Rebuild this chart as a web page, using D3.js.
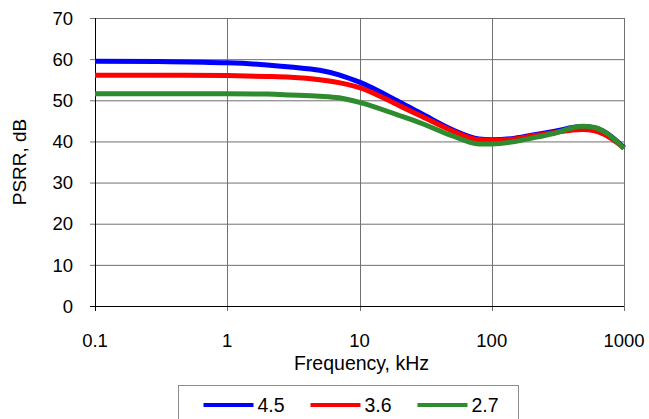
<!DOCTYPE html>
<html>
<head>
<meta charset="utf-8">
<script src="https://cdn.jsdelivr.net/npm/d3@7"></script>
<style>
  body { margin: 0; background: #fff; }
  svg text { font-family: "Liberation Sans", Arial, sans-serif; fill: #000; }
</style>
</head>
<body>
<div id="chart"></div>
<script>
// frequency in kHz
var freq = [0.1, 0.3, 1, 2, 3, 5, 7, 10, 20, 30, 50, 80, 100, 150, 200, 300, 480, 600, 700, 1000];
var psrr45 = [59.5, 59.4, 59.1, 58.6, 58.1, 57.3, 56.2, 54.4, 49.6, 46.6, 42.9, 40.6, 40.4, 40.8, 41.5, 42.5, 43.6, 43.3, 42.5, 38.5];
var psrr36 = [56.1, 56.1, 56.0, 55.8, 55.6, 55.0, 54.3, 53.1, 48.7, 46.0, 42.6, 40.4, 40.3, 40.6, 41.3, 42.2, 42.9, 42.6, 41.8, 38.4];
var psrr27 = [51.6, 51.6, 51.6, 51.5, 51.3, 51.0, 50.6, 49.5, 46.3, 44.3, 41.4, 39.4, 39.4, 40.0, 40.8, 42.0, 43.7, 43.4, 42.5, 38.3];
var seriesNames = ["4.5", "3.6", "2.7"];
var seriesColors = ["#0000ff", "#ff0000", "#2e8b2e"];
var xTicks = [0.1, 1, 10, 100, 1000];
var yTicks = [0, 10, 20, 30, 40, 50, 60, 70];

var W = 649, H = 419;
var margin = {top: 18, right: 25, bottom: 113, left: 95};
var width = W - margin.left - margin.right,
    height = H - margin.top - margin.bottom;

var svg = d3.select("#chart").append("svg")
  .attr("width", W).attr("height", H);

var g = svg.append("g")
  .attr("transform", "translate(" + margin.left + "," + margin.top + ")");

var x = d3.scaleLog().domain([0.1, 1000]).range([0, width]);
var y = d3.scaleLinear().domain([0, 70]).range([height, 0]);

// grid lines
g.append("g").selectAll("line.hg")
  .data(yTicks.slice(1))
  .enter().append("line")
  .attr("x1", -5).attr("x2", width)
  .attr("y1", function(d) { return y(d) + 0.5; })
  .attr("y2", function(d) { return y(d) + 0.5; })
  .attr("stroke", "#707070").attr("stroke-width", 1);

g.append("g").selectAll("line.vg")
  .data(xTicks.slice(1))
  .enter().append("line")
  .attr("x1", function(d) { return Math.round(x(d)) + 0.5; })
  .attr("x2", function(d) { return Math.round(x(d)) + 0.5; })
  .attr("y1", 0).attr("y2", height + 5)
  .attr("stroke", "#707070").attr("stroke-width", 1);

// axes
g.append("line")
  .attr("x1", 0.5).attr("x2", 0.5).attr("y1", 0).attr("y2", height + 5)
  .attr("stroke", "#000");
g.append("line")
  .attr("x1", -5).attr("x2", width).attr("y1", height + 0.5).attr("y2", height + 0.5)
  .attr("stroke", "#000");

// tick labels
g.append("g").selectAll("text")
  .data(yTicks)
  .enter().append("text")
  .attr("x", -22)
  .attr("y", function(d) { return y(d); })
  .attr("dy", "0.36em")
  .attr("text-anchor", "end")
  .style("font-size", "18.5px")
  .text(function(d) { return d; });

g.append("g").selectAll("text")
  .data(xTicks)
  .enter().append("text")
  .attr("x", function(d) { return x(d); })
  .attr("y", height + 41)
  .attr("text-anchor", "middle")
  .style("font-size", "18.5px")
  .text(function(d) { return d; });

// axis titles
g.append("text")
  .attr("x", width / 2 + 2).attr("y", height + 64)
  .attr("text-anchor", "middle")
  .style("font-size", "19.5px")
  .text("Frequency, kHz");

g.append("text")
  .attr("transform", "translate(-69," + (height / 2) + ") rotate(-90)")
  .attr("text-anchor", "middle")
  .style("font-size", "19px")
  .text("PSRR, dB");

// curves
var allSeries = [psrr45, psrr36, psrr27];
var line = d3.line()
  .x(function(d) { return x(d[0]); })
  .y(function(d) { return y(d[1]); })
  .curve(d3.curveMonotoneX);

for (var s = 0; s < allSeries.length; s++) {
  var data = freq.map(function(f, i) { return [f, allSeries[s][i]]; });
  g.append("path")
    .datum(data)
    .attr("fill", "none")
    .attr("stroke", seriesColors[s])
    .attr("stroke-width", 5)
    .attr("stroke-linejoin", "round")
    .attr("d", line);
}

// legend
var legend = svg.append("g").attr("transform", "translate(178.5,385.5)");
legend.append("rect")
  .attr("width", 340).attr("height", 45)
  .attr("fill", "#fff").attr("stroke", "#8c8c8c");

for (var k = 0; k < seriesNames.length; k++) {
  var lx = 25 + k * 107;
  legend.append("line")
    .attr("x1", lx).attr("x2", lx + 50)
    .attr("y1", 19.5).attr("y2", 19.5)
    .attr("stroke", seriesColors[k]).attr("stroke-width", 4);
  legend.append("text")
    .attr("x", lx + 54).attr("y", 19.5)
    .attr("dy", "0.36em")
    .style("font-size", "19.5px")
    .text(seriesNames[k]);
}
</script>
</body>
</html>
